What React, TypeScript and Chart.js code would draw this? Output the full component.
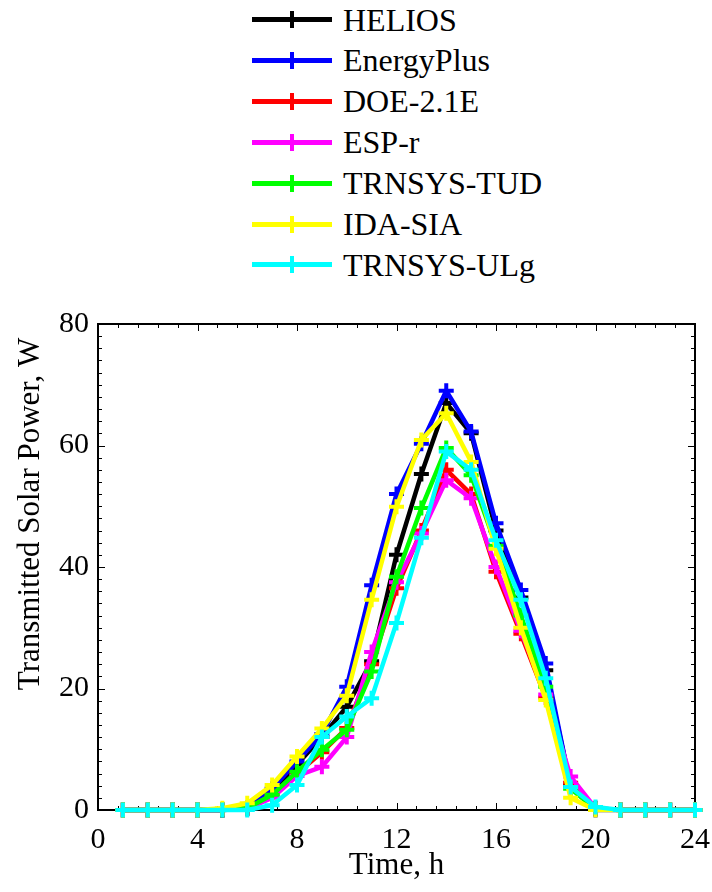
import React, { useEffect, useRef } from "react";
import { Chart, registerables } from "chart.js";

Chart.register(...registerables);

// ---------- DATA ----------
const hours = [1, 2, 3, 4, 5, 6, 7, 8, 9, 10, 11, 12, 13, 14, 15, 16, 17, 18, 19, 20, 21, 22, 23, 24];

const seriesNames = ["HELIOS", "EnergyPlus", "DOE-2.1E", "ESP-r", "TRNSYS-TUD", "IDA-SIA", "TRNSYS-ULg"];
const seriesColors = ["#000000", "#0000ff", "#ff0000", "#ff00ff", "#00ff00", "#ffff00", "#00ffff"];

const helios = [0, 0, 0, 0, 0, 0.3, 3, 7.5, 12, 17, 24.5, 42, 55.3, 67, 62, 46, 35, 23, 4, 0.2, 0, 0, 0, 0];
const energyPlus = [0, 0, 0, 0, 0, 0.3, 3.5, 8, 12.5, 20.3, 37, 52, 60.3, 69, 62.3, 47.2, 36.2, 24.1, 3.8, 0, 0, 0, 0, 0];
const doe21e = [0, 0, 0, 0, 0, 0.2, 2.5, 6, 9.5, 13.5, 24, 36.5, 46, 56, 52, 39.2, 29, 18.5, 4.5, 0.3, 0, 0, 0, 0];
const espR = [0, 0, 0, 0, 0, 0.2, 2, 5.6, 7.1, 12, 26, 37.5, 45.5, 54.3, 51.3, 40, 29.5, 19, 5.5, 0.3, 0, 0, 0, 0];
const trnsysTud = [0, 0, 0, 0, 0, 0.3, 2.5, 6.3, 9.9, 13.2, 22.8, 38.4, 49.7, 59.6, 55.1, 43.5, 32, 20.3, 3.5, 0.2, 0, 0, 0, 0];
const idaSia = [0, 0, 0, 0, 0.3, 1.1, 4.1, 8.8, 13.4, 18.8, 34.6, 49.9, 60.9, 65.3, 57.3, 43, 30, 18.1, 2, 0, 0, 0, 0, 0];
const trnsysUlg = [0, 0, 0, 0, 0, 0, 0.8, 4.1, 12, 15.4, 18.4, 30.8, 44.8, 59, 56, 44.4, 34.6, 21.7, 3.8, 0.5, 0, 0, 0, 0];

const seriesValues = [helios, energyPlus, doe21e, espR, trnsysTud, idaSia, trnsysUlg];

const xTickLabels = ["0", "4", "8", "12", "16", "20", "24"];
const yTickLabels = ["0", "20", "40", "60", "80"];
const xTitle = "Time, h";
const yTitle = "Transmitted Solar Power, W";

const FONT = "'Liberation Serif', 'Times New Roman', serif";

const framePlugin = {
  id: "frameTicks",
  beforeDatasetsDraw(chart: any) {
    const { ctx, chartArea: a, scales } = chart;
    const xs = scales.x;
    const ys = scales.y;
    ctx.save();
    ctx.strokeStyle = "#000";
    ctx.lineWidth = 1;
    const line = (x1: number, y1: number, x2: number, y2: number) => {
      ctx.beginPath();
      ctx.moveTo(x1, y1);
      ctx.lineTo(x2, y2);
      ctx.stroke();
    };
    for (let i = 0; i <= 30; i++) {
      const v = i * 0.8;
      const major = i % 5 === 0;
      const px = Math.round(xs.getPixelForValue(v)) + 0.5;
      const len = major ? 7 : 4;
      line(px, a.bottom, px, a.bottom - len);
      line(px, a.top, px, a.top + len);
    }
    for (let i = 0; i <= 40; i++) {
      const v = i * 2;
      const major = v % 20 === 0;
      const py = Math.round(ys.getPixelForValue(v)) + 0.5;
      const len = major ? 7 : 4;
      line(a.left, py, a.left + len, py);
      line(a.right, py, a.right - len, py);
    }
    ctx.lineWidth = 2;
    ctx.strokeRect(a.left, a.top, a.right - a.left, a.bottom - a.top);
    ctx.restore();
  },
  afterDraw(chart: any) {
    const { ctx, chartArea: a } = chart;
    ctx.save();
    ctx.fillStyle = "#000";
    ctx.font = `31px ${FONT}`;
    ctx.textAlign = "center";
    ctx.textBaseline = "middle";
    ctx.fillText(xTitle, (a.left + a.right) / 2, 866);
    ctx.translate(31, 514);
    ctx.rotate(-Math.PI / 2);
    ctx.fillText(yTitle, 0, 0);
    ctx.restore();
  },
};

function Legend() {
  return (
    <div style={{ position: "absolute", left: 0, top: 0, width: 712, height: 290 }}>
      {seriesNames.map((name, i) => {
        const cy = 19.5 + i * 40.9;
        return (
          <div key={name}>
            <div
              style={{
                position: "absolute",
                left: 252,
                top: cy - 2.5,
                width: 80,
                height: 5,
                background: seriesColors[i],
              }}
            />
            <div
              style={{
                position: "absolute",
                left: 289.5,
                top: cy - 8.5,
                width: 4.5,
                height: 17,
                background: seriesColors[i],
              }}
            />
            <div
              style={{
                position: "absolute",
                left: 343,
                top: cy - 20,
                height: 40,
                lineHeight: "40px",
                fontFamily: FONT,
                fontSize: 32,
                color: "#000",
                whiteSpace: "nowrap",
              }}
            >
              {name}
            </div>
          </div>
        );
      })}
    </div>
  );
}

export default function App() {
  const canvasRef = useRef<HTMLCanvasElement | null>(null);

  useEffect(() => {
    const canvas = canvasRef.current;
    if (!canvas) return;
    const datasets = seriesNames.map((name, i) => ({
      label: name,
      data: hours.map((h, j) => ({ x: h, y: seriesValues[i][j] })),
      borderColor: seriesColors[i],
      backgroundColor: seriesColors[i],
      borderWidth: 4.5,
      pointStyle: "cross",
      pointRadius: 7.5,
      pointBorderWidth: 4,
      pointBorderColor: seriesColors[i],
      tension: 0,
      clip: false as any,
      order: seriesNames.length - i,
    }));

    const chart = new Chart(canvas, {
      type: "line",
      data: { datasets },
      options: {
        responsive: false,
        animation: false,
        devicePixelRatio: 1,
        layout: { padding: { top: 324, right: 17, left: 0, bottom: 0 } },
        plugins: { legend: { display: false }, tooltip: { enabled: false } },
        scales: {
          x: {
            type: "linear",
            min: 0,
            max: 24,
            grid: { display: false, drawTicks: false },
            border: { display: false },
            afterFit: (s: any) => {
              s.height = 82;
              s.paddingLeft = 0;
              s.paddingRight = 0;
            },
            afterBuildTicks: (s: any) => {
              s.ticks = xTickLabels.map((t) => ({ value: Number(t) }));
            },
            ticks: {
              padding: 12,
              color: "#000",
              font: { family: FONT, size: 30 },
              maxRotation: 0,
              autoSkip: false,
            },
          },
          y: {
            type: "linear",
            min: 0,
            max: 80,
            grid: { display: false, drawTicks: false },
            border: { display: false },
            afterFit: (s: any) => {
              s.width = 98;
              s.paddingTop = 0;
              s.paddingBottom = 0;
            },
            afterBuildTicks: (s: any) => {
              s.ticks = yTickLabels.map((t) => ({ value: Number(t) }));
            },
            ticks: {
              padding: 9,
              color: "#000",
              font: { family: FONT, size: 30 },
              autoSkip: false,
            },
          },
        },
      },
      plugins: [framePlugin],
    });
    return () => chart.destroy();
  }, []);

  return (
    <div style={{ position: "absolute", left: 0, top: 0, width: 712, height: 892, background: "#fff" }}>
      <Legend />
      <canvas
        ref={canvasRef}
        width={712}
        height={892}
        style={{ position: "absolute", left: 0, top: 0, width: 712, height: 892 }}
      />
    </div>
  );
}
